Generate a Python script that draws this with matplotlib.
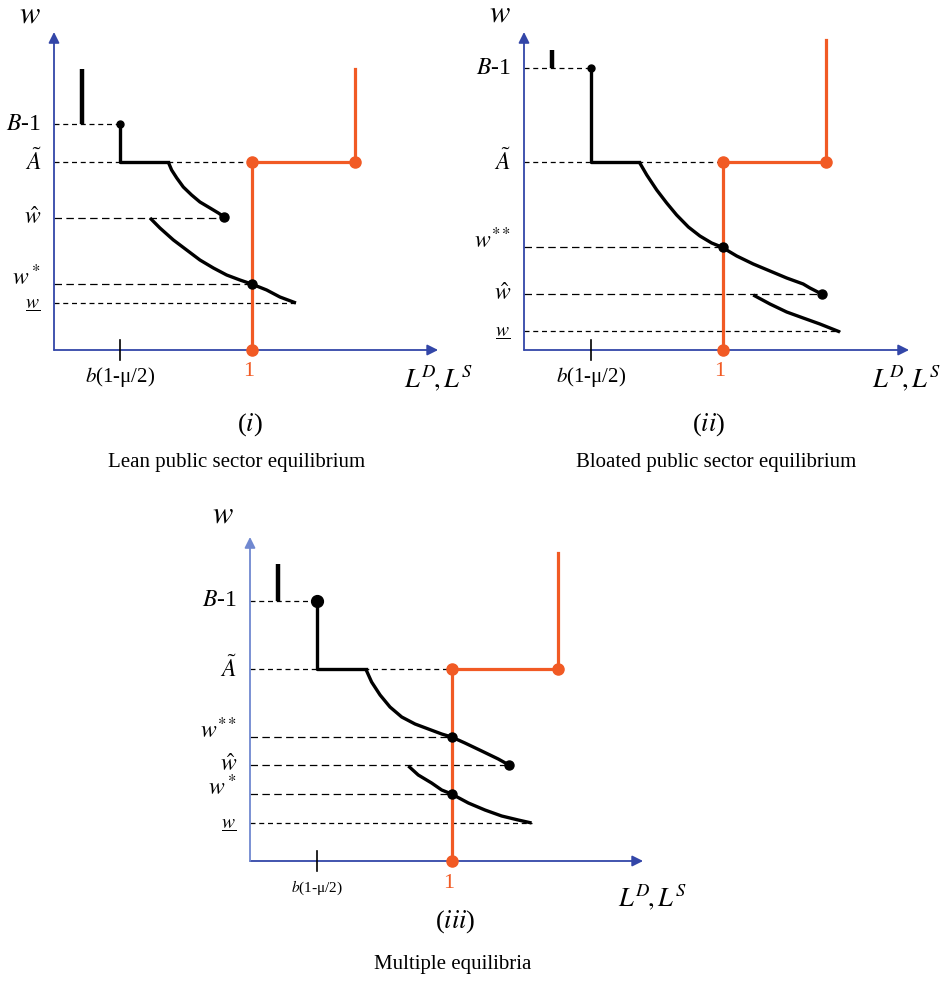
import matplotlib.pyplot as plt

plt.rcParams['font.family'] = 'Liberation Serif'
plt.rcParams['mathtext.fontset'] = 'stix'

RED = '#f15a24'
BLUE = '#3346a8'
LIGHTBLUE = '#7088d0'
UNDER_W = r'$\genfrac{}{}{0.6}{0}{w}{\,}$'

W, H = 944, 983
fig = plt.figure(figsize=(W / 100, H / 100), dpi=100)

# ---- panel (i): lean public sector ----
p1_levels = [2.26, 1.88, 1.32, 0.66, 0.47]
p1_names = [r'$B$-1', r'$\tilde{A}$', r'$\hat{w}$', r'$w^*$', UNDER_W]
p1_dash_end = [0.333, 1.0, 0.86, 1.0, 1.222]
p1_dash_long = [False, False, True, True, False]
p1_bar_x, p1_bar_y = 0.141, [2.26, 2.81]
p1_step_x = [0.333, 0.333, 0.577]
p1_step_y = [2.26, 1.88, 1.88]
p1_upper_x = [0.577, 0.594, 0.620, 0.653, 0.695, 0.737, 0.788, 0.830, 0.860]
p1_upper_y = [1.88, 1.80, 1.72, 1.63, 1.55, 1.48, 1.42, 1.37, 1.33]
p1_lower_x = [0.485, 0.535, 0.603, 0.670, 0.737, 0.805, 0.872, 0.939, 0.998,
              1.074, 1.141, 1.222]
p1_lower_y = [1.32, 1.22, 1.10, 1.00, 0.90, 0.82, 0.75, 0.70, 0.66,
              0.60, 0.53, 0.47]
p1_dots_x = [0.333, 0.860, 1.0]
p1_dots_y = [2.26, 1.33, 0.66]
p1_dots_size = [5, 6.5, 6.5]
p1_supply_x = [1, 1, 1.52, 1.52]
p1_supply_y = [0, 1.88, 1.88, 2.81]
p1_btick = 0.333

# ---- panel (ii): bloated public sector ----
p2_levels = [2.82, 1.88, 1.03, 0.56, 0.19]
p2_names = [r'$B$-1', r'$\tilde{A}$', r'$w^{**}$', r'$\hat{w}$', UNDER_W]
p2_dash_end = [0.337, 1.0, 1.0, 1.496, 1.588]
p2_dash_long = [False, False, True, True, False]
p2_bar_x, p2_bar_y = 0.141, [2.82, 3.00]
p2_step_x = [0.337, 0.337, 0.579]
p2_step_y = [2.82, 1.88, 1.88]
p2_upper_x = [0.579, 0.617, 0.667, 0.717, 0.767, 0.826, 0.884, 0.943, 0.993,
              1.069, 1.152, 1.236, 1.320, 1.403, 1.437, 1.496]
p2_upper_y = [1.88, 1.75, 1.60, 1.47, 1.35, 1.23, 1.14, 1.07, 1.03,
              0.94, 0.86, 0.79, 0.72, 0.66, 0.62, 0.56]
p2_lower_x = [1.152, 1.236, 1.320, 1.403, 1.487, 1.588]
p2_lower_y = [0.55, 0.46, 0.38, 0.32, 0.26, 0.18]
p2_dots_x = [0.337, 1.0, 1.496]
p2_dots_y = [2.82, 1.03, 0.56]
p2_dots_size = [5, 6.5, 6.5]
p2_supply_x = [1, 1, 1.518, 1.518]
p2_supply_y = [0, 1.88, 1.88, 3.10]
p2_btick = 0.337

# ---- panel (iii): multiple equilibria ----
p3_levels = [2.60, 1.92, 1.24, 0.96, 0.67, 0.38]
p3_names = [r'$B$-1', r'$\tilde{A}$', r'$w^{**}$', r'$\hat{w}$', r'$w^*$', UNDER_W]
p3_dash_end = [0.332, 1.0, 1.0, 1.282, 1.0, 1.394]
p3_dash_long = [False, False, True, True, True, False]
p3_bar_x, p3_bar_y = 0.139, [2.60, 2.97]
p3_step_x = [0.332, 0.332, 0.573]
p3_step_y = [2.60, 1.92, 1.92]
p3_upper_x = [0.573, 0.602, 0.644, 0.693, 0.751, 0.817, 0.883, 0.949, 0.998,
              1.064, 1.147, 1.229, 1.282]
p3_upper_y = [1.92, 1.79, 1.66, 1.54, 1.44, 1.37, 1.32, 1.27, 1.24,
              1.18, 1.10, 1.02, 0.96]
p3_lower_x = [0.784, 0.833, 0.899, 0.949, 0.998, 1.081, 1.163, 1.246, 1.328, 1.394]
p3_lower_y = [0.95, 0.86, 0.78, 0.71, 0.67, 0.58, 0.51, 0.45, 0.41, 0.38]
p3_dots_x = [0.332, 1.0, 1.282, 1.0]
p3_dots_y = [2.60, 1.24, 0.96, 0.67]
p3_dots_size = [8.5, 6.5, 6.5, 6.5]
p3_supply_x = [1, 1, 1.525, 1.525]
p3_supply_y = [0, 1.92, 1.92, 3.08]
p3_btick = 0.332

captions = ['Lean public sector equilibrium', 'Bloated public sector equilibrium',
            'Multiple equilibria']
roman = ['($i$)', '($ii$)', '($iii$)']


def make_panel(box, origin, scale):
    L, T, R, B = box
    ox, oy = origin
    sx, sy = scale
    ax = fig.add_axes([L / W, 1 - B / H, (R - L) / W, (B - T) / H])
    ax.set_xlim((L - ox) / sx, (R - ox) / sx)
    ax.set_ylim((oy - B) / sy, (oy - T) / sy)
    ax.axis('off')
    return ax


def draw(ax, levels, names, dash_end, dash_long, bar_x, bar_y, step_x, step_y,
         upper_x, upper_y, lower_x, lower_y, dots_x, dots_y, dots_size,
         supply_x, supply_y, btick, xend, ytop, ycol, bsize):
    # axes with arrows
    ax.annotate('', xy=(xend, 0), xytext=(0, 0),
                arrowprops=dict(arrowstyle='-|>', color=BLUE, lw=1.3,
                                mutation_scale=16, shrinkA=0, shrinkB=0))
    ax.annotate('', xy=(0, ytop), xytext=(0, 0),
                arrowprops=dict(arrowstyle='-|>', color=ycol, lw=1.3,
                                mutation_scale=16, shrinkA=0, shrinkB=0))
    # dashed guide lines and level labels
    for lv, nm, xe, lg in zip(levels, names, dash_end, dash_long):
        ax.plot([0, xe], [lv, lv], color='black', lw=0.9,
                dashes=(6, 3.5) if lg else (4, 3), zorder=1)
        if nm.startswith('$w^'):
            ax.text(-0.065, lv - 0.01, nm, ha='right', va='baseline', fontsize=17)
        elif nm == UNDER_W:
            ax.text(-0.07, lv + 0.02, nm, ha='right', va='top', fontsize=14)
        else:
            ax.text(-0.065, lv, nm, ha='right', va='center', fontsize=17)
    # labour demand
    ax.plot([bar_x, bar_x], bar_y, color='black', lw=3.2, solid_capstyle='butt', zorder=2)
    ax.plot(step_x, step_y, color='black', lw=2.4, zorder=2)
    for cx, cy in ((upper_x, upper_y), (lower_x, lower_y)):
        ax.plot(cx, cy, color='black', lw=2.4, solid_joinstyle='round',
                solid_capstyle='butt', zorder=2)
    # labour supply
    ax.plot(supply_x, supply_y, color=RED, lw=2.3, zorder=3)
    ax.plot(supply_x[:3], supply_y[:3], 'o', color=RED, ms=8, zorder=4)
    for x, y, s in zip(dots_x, dots_y, dots_size):
        ax.plot(x, y, 'o', color='black', ms=s, zorder=5)
    # ticks on the x axis
    ax.plot([btick, btick], [-0.1, 0.1], color='black', lw=1.2, zorder=5)
    ax.text(btick, -0.27, r'$b$(1-μ/2)', ha='center', va='center', fontsize=bsize)
    ax.text(0.985, -0.22, '1', color=RED, ha='center', va='center', fontsize=16)


ax1 = make_panel((0, 0, 470, 490), (54, 350), (198, 100))
draw(ax1, p1_levels, p1_names, p1_dash_end, p1_dash_long, p1_bar_x, p1_bar_y,
     p1_step_x, p1_step_y, p1_upper_x, p1_upper_y, p1_lower_x, p1_lower_y,
     p1_dots_x, p1_dots_y, p1_dots_size, p1_supply_x, p1_supply_y, p1_btick,
     1.94, 3.18, BLUE, 15)
ax1.text(-0.12, 3.35, '$w$', ha='center', va='center', fontsize=22)
ax1.text(1.77, -0.28, '$L^D\\!,L^S$', ha='left', va='center', fontsize=19)
ax1.text(0.99, -0.75, roman[0], ha='center', va='center', fontsize=19)
ax1.text(0.92, -1.12, captions[0], ha='center', va='center', fontsize=15)

ax2 = make_panel((470, 0, 944, 490), (524, 350), (199, 100))
draw(ax2, p2_levels, p2_names, p2_dash_end, p2_dash_long, p2_bar_x, p2_bar_y,
     p2_step_x, p2_step_y, p2_upper_x, p2_upper_y, p2_lower_x, p2_lower_y,
     p2_dots_x, p2_dots_y, p2_dots_size, p2_supply_x, p2_supply_y, p2_btick,
     1.935, 3.18, BLUE, 15)
ax2.text(-0.12, 3.36, '$w$', ha='center', va='center', fontsize=22)
ax2.text(1.75, -0.28, '$L^D\\!,L^S$', ha='left', va='center', fontsize=19)
ax2.text(0.925, -0.75, roman[1], ha='center', va='center', fontsize=19)
ax2.text(0.965, -1.12, captions[1], ha='center', va='center', fontsize=15)

ax3 = make_panel((180, 490, 720, 983), (250, 861), (202, 100))
draw(ax3, p3_levels, p3_names, p3_dash_end, p3_dash_long, p3_bar_x, p3_bar_y,
     p3_step_x, p3_step_y, p3_upper_x, p3_upper_y, p3_lower_x, p3_lower_y,
     p3_dots_x, p3_dots_y, p3_dots_size, p3_supply_x, p3_supply_y, p3_btick,
     1.946, 3.24, LIGHTBLUE, 11)
ax3.text(-0.134, 3.46, '$w$', ha='center', va='center', fontsize=22)
ax3.text(1.82, -0.36, '$L^D\\!,L^S$', ha='left', va='center', fontsize=19)
ax3.text(1.015, -0.61, roman[2], ha='center', va='center', fontsize=19)
ax3.text(1.005, -1.04, captions[2], ha='center', va='center', fontsize=15)

fig.savefig('out.png', dpi=100)
